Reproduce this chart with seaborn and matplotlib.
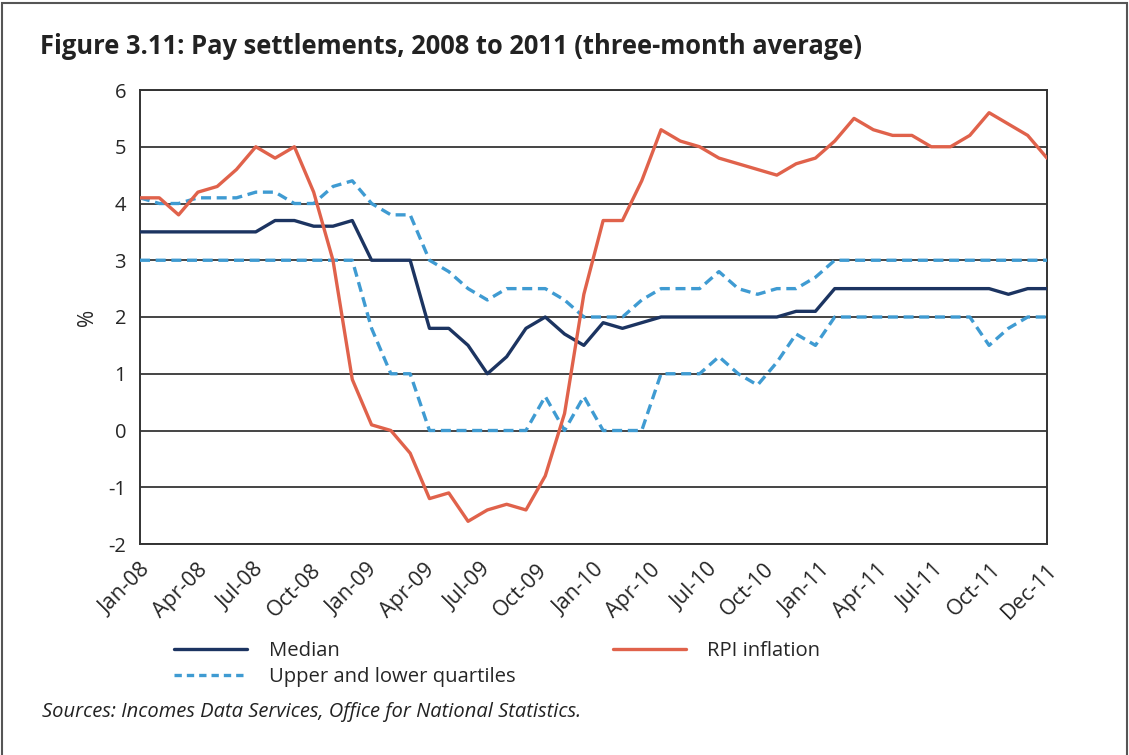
import numpy as np
import pandas as pd
import seaborn as sns
import matplotlib.pyplot as plt
from matplotlib.lines import Line2D
from matplotlib.patches import Rectangle

# Monthly values, Jan-08 .. Dec-11
median = [3.5, 3.5, 3.5, 3.5, 3.5, 3.5, 3.5, 3.7, 3.7, 3.6, 3.6, 3.7,
          3.0, 3.0, 3.0, 1.8, 1.8, 1.5, 1.0, 1.3, 1.8, 2.0, 1.7, 1.5,
          1.9, 1.8, 1.9, 2.0, 2.0, 2.0, 2.0, 2.0, 2.0, 2.0, 2.1, 2.1,
          2.5, 2.5, 2.5, 2.5, 2.5, 2.5, 2.5, 2.5, 2.5, 2.4, 2.5, 2.5]
upper_q = [4.1, 4.0, 4.0, 4.1, 4.1, 4.1, 4.2, 4.2, 4.0, 4.0, 4.3, 4.4,
           4.0, 3.8, 3.8, 3.0, 2.8, 2.5, 2.3, 2.5, 2.5, 2.5, 2.3, 2.0,
           2.0, 2.0, 2.3, 2.5, 2.5, 2.5, 2.8, 2.5, 2.4, 2.5, 2.5, 2.7,
           3.0, 3.0, 3.0, 3.0, 3.0, 3.0, 3.0, 3.0, 3.0, 3.0, 3.0, 3.0]
lower_q = [3.0, 3.0, 3.0, 3.0, 3.0, 3.0, 3.0, 3.0, 3.0, 3.0, 3.0, 3.0,
           1.8, 1.0, 1.0, 0.0, 0.0, 0.0, 0.0, 0.0, 0.0, 0.6, 0.0, 0.6,
           0.0, 0.0, 0.0, 1.0, 1.0, 1.0, 1.3, 1.0, 0.8, 1.2, 1.7, 1.5,
           2.0, 2.0, 2.0, 2.0, 2.0, 2.0, 2.0, 2.0, 1.5, 1.8, 2.0, 2.0]
rpi = [4.1, 4.1, 3.8, 4.2, 4.3, 4.6, 5.0, 4.8, 5.0, 4.2, 3.0, 0.9,
       0.1, 0.0, -0.4, -1.2, -1.1, -1.6, -1.4, -1.3, -1.4, -0.8, 0.3, 2.4,
       3.7, 3.7, 4.4, 5.3, 5.1, 5.0, 4.8, 4.7, 4.6, 4.5, 4.7, 4.8,
       5.1, 5.5, 5.3, 5.2, 5.2, 5.0, 5.0, 5.2, 5.6, 5.4, 5.2, 4.8]
tick_labels = ['Jan-08', 'Apr-08', 'Jul-08', 'Oct-08', 'Jan-09', 'Apr-09', 'Jul-09', 'Oct-09',
               'Jan-10', 'Apr-10', 'Jul-10', 'Oct-10', 'Jan-11', 'Apr-11', 'Jul-11', 'Oct-11', 'Dec-11']

navy = '#1c3461'
red = '#e0624b'
blue = '#3f9bd2'

df = pd.DataFrame({'month': np.arange(len(median)), 'median': median,
                   'upper': upper_q, 'lower': lower_q, 'rpi': rpi})

sns.set_style('white')
plt.rcParams['font.family'] = ['Open Sans', 'DejaVu Sans']

fig = plt.figure(figsize=(11.29, 7.55), dpi=100)
ax = fig.add_axes([140/1129, 1 - 544/755, 907/1129, 454/755])

# gridlines
for v in range(-2, 7):
    ax.axhline(v, color='#444444', lw=1.4, zorder=1)

sns.lineplot(data=df, x='month', y='upper', ax=ax, color=blue, lw=2.4, zorder=3)
ax.lines[-1].set_dashes([3.0, 1.7])
sns.lineplot(data=df, x='month', y='lower', ax=ax, color=blue, lw=2.4, zorder=3)
ax.lines[-1].set_dashes([3.0, 1.7])
sns.lineplot(data=df, x='month', y='median', ax=ax, color=navy, lw=2.4, zorder=4)
sns.lineplot(data=df, x='month', y='rpi', ax=ax, color=red, lw=2.4, zorder=5)

ax.set_xlim(0, len(median) - 1)
ax.set_ylim(-2, 6)
ax.set_xticks(np.linspace(0, len(median) - 1, len(tick_labels)))
ax.set_xticklabels(tick_labels, rotation=45, ha='right', rotation_mode='anchor', fontsize=15.5)
ax.set_yticks(range(-2, 7))
ax.set_yticklabels([str(v) for v in range(-2, 7)], fontsize=14.5)
ax.tick_params(axis='both', direction='out', length=7, width=1.2, color='#333333', pad=3)
ax.tick_params(axis='x', pad=4)
ax.set_xlabel('')
ax.set_ylabel('%', fontsize=15, labelpad=7)
for s in ax.spines.values():
    s.set_color('#333333')
    s.set_linewidth(1.4)

handles = [Line2D([], [], color=navy, lw=2.4),
           Line2D([], [], color=blue, lw=2.4, dashes=[2.2, 1.5]),
           Line2D([], [], color=red, lw=2.4)]
fig.legend(handles, ['Median', 'Upper and lower quartiles', 'RPI inflation'],
           ncol=2, frameon=False, fontsize=14.6, handlelength=3.6, handletextpad=1.05,
           columnspacing=4.8, labelspacing=0.3,
           loc='upper left', bbox_to_anchor=(156/1129, 1 - 623/755))

fig.text(40/1129, 1 - 46/755, 'Figure 3.11: Pay settlements, 2008 to 2011 (three-month average)',
         fontsize=18.4, fontweight='bold', va='center', ha='left', color='#222222')
fig.text(42/1129, 1 - 712/755, 'Sources: Incomes Data Services, Office for National Statistics.',
         fontsize=14.5, style='italic', va='center', ha='left', color='#222222')

fig.patches.append(Rectangle((2/1129, -0.05), 1125/1129, 1.05 - 3/755, transform=fig.transFigure,
                             fill=False, edgecolor='#555555', lw=1.5))

fig.savefig('out.png', dpi=100)
